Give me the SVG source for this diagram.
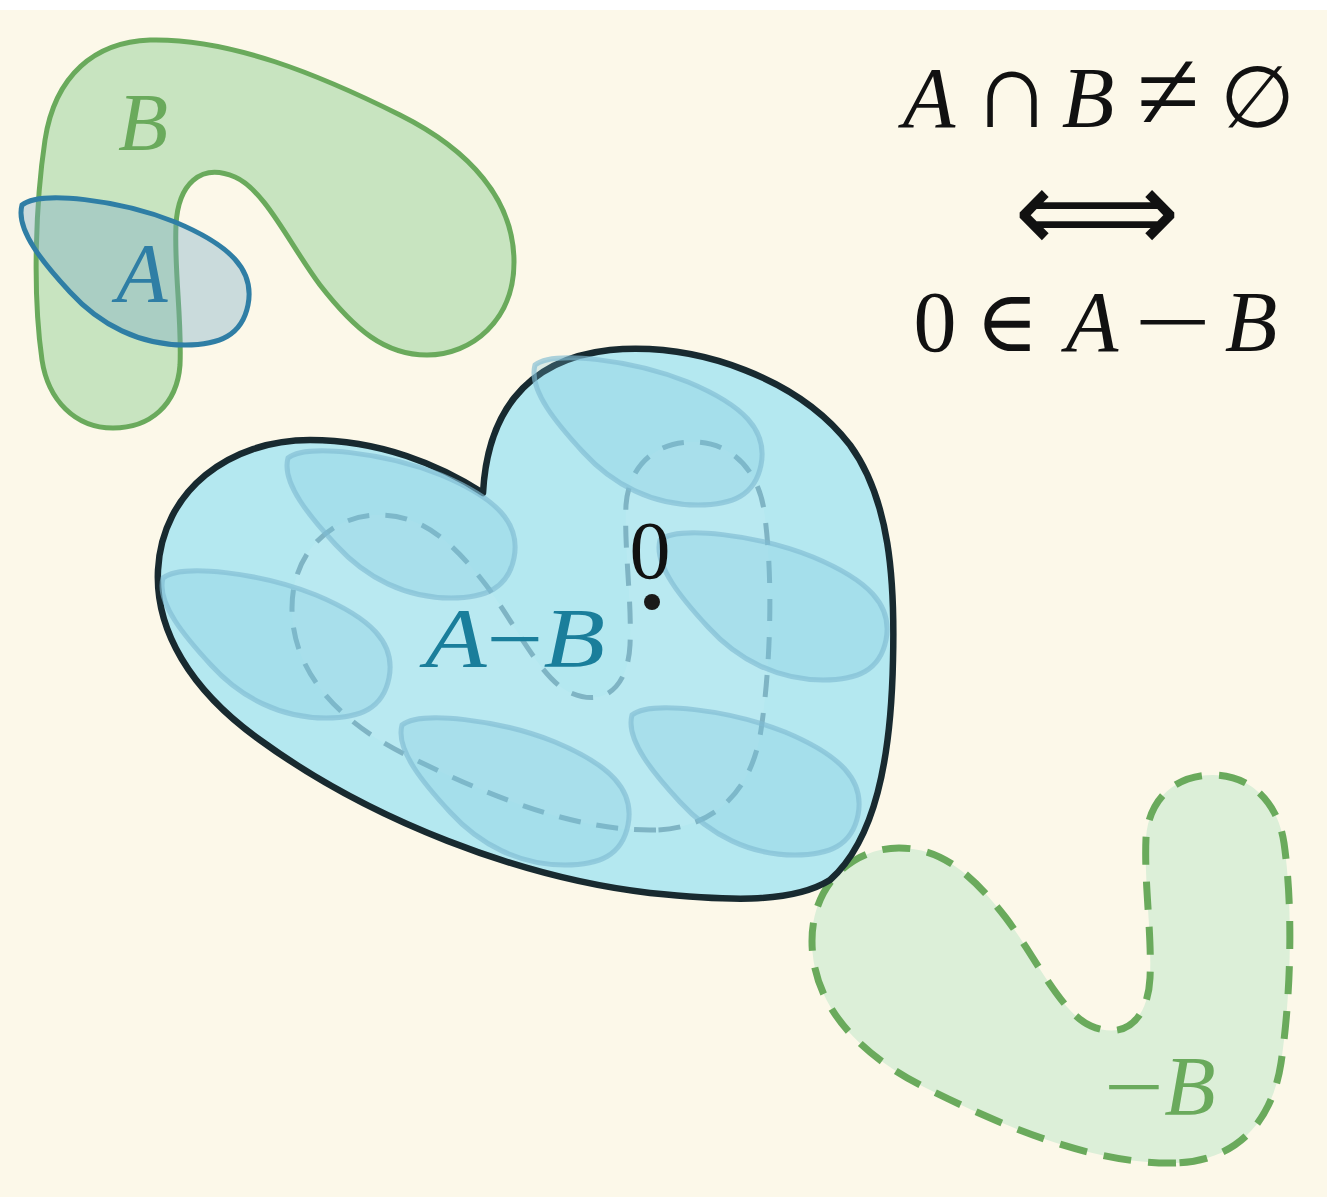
<svg xmlns="http://www.w3.org/2000/svg" xmlns:xlink="http://www.w3.org/1999/xlink" width="1327" height="1197" viewBox="0 0 1327 1197">
<style>
.math{font-family:"Liberation Serif","DejaVu Serif",serif;}
.it{font-style:italic;}
.green{fill:#6aaa5c;}
</style>
<defs>
<path id="shapeA" d="M 22,205 C 40,190 120,200 175,222 C 230,245 255,270 248,305 C 242,335 220,345 185,345 C 140,345 100,325 70,292 C 45,265 15,230 22,205 Z"/>
<path id="shapeB" d="M 150,40 C 230,38 320,75 400,115 C 470,150 514,200 514,262 C 514,320 472,355 427,355 C 385,355 355,330 320,285 C 290,245 265,190 235,177 C 200,162 178,185 176,225 C 174,270 182,320 180,365 C 177,405 150,428 113,428 C 75,428 48,400 42,360 C 32,290 36,200 45,140 C 55,75 95,42 150,40 Z"/>
</defs>
<rect x="0" y="0" width="1327" height="1197" fill="#fcf8e9"/>
<rect x="0" y="0" width="1327" height="10" fill="#ffffff"/>

<g id="setB">
<use xlink:href="#shapeB" fill="#c8e4c0" stroke="#6aaa5c" stroke-width="5"/>
<text class="math it green" x="143" y="150" font-size="82" text-anchor="middle">B</text>
</g>

<g id="setA">
<use xlink:href="#shapeA" fill="#78aac8" fill-opacity="0.38" stroke="#2f7ea5" stroke-width="5"/>
<text class="math it" x="142" y="302" font-size="84" text-anchor="middle" fill="#2f7ea5">A</text>
</g>

<g id="setNegB">
<use xlink:href="#shapeB" transform="translate(1326,1203) rotate(180)" fill="#dcefd8" stroke="#6aaa5c" stroke-width="7" stroke-dasharray="28 17"/>
<text class="math green" x="1104" y="1115" font-size="84" textLength="60" lengthAdjust="spacingAndGlyphs">−</text>
<text class="math it green" x="1190" y="1115" font-size="84" text-anchor="middle">B</text>
</g>

<g id="setAminusB">
<path d="M 483,493 C 487,420 520,360 610,350 C 700,342 800,380 850,445 C 890,500 895,580 893,660 C 891,760 875,840 830,880 C 790,905 720,900 650,893 C 520,878 370,820 260,740 C 190,690 155,630 158,570 C 162,490 230,440 310,440 C 380,440 440,465 483,493 Z" fill="#b4e8f0" stroke="#182a30" stroke-width="6.5" stroke-linejoin="round"/>
<use xlink:href="#shapeB" transform="translate(806,870) rotate(180)" fill="#ffffff" fill-opacity="0.08" stroke="#7fb4c4" stroke-width="5" stroke-dasharray="22 16"/>
<g fill="#78c3dc" fill-opacity="0.25" stroke="#80bcd2" stroke-opacity="0.65" stroke-width="5">
<use xlink:href="#shapeA" transform="translate(513,160)"/>
<use xlink:href="#shapeA" transform="translate(266,253)"/>
<use xlink:href="#shapeA" transform="translate(141,373)"/>
<use xlink:href="#shapeA" transform="translate(638,335)"/>
<use xlink:href="#shapeA" transform="translate(380,520)"/>
<use xlink:href="#shapeA" transform="translate(610,510)"/>
</g>
<text class="math" x="515" y="667" font-size="84" text-anchor="middle" fill="#1a7e9b" textLength="180" lengthAdjust="spacingAndGlyphs"><tspan class="it">A</tspan>−<tspan class="it">B</tspan></text>
</g>

<g id="origin">
<text class="math" x="650" y="578" font-size="82" text-anchor="middle" fill="#111111">0</text>
<circle cx="652" cy="602" r="8" fill="#1a1a1a"/>
</g>

<g id="equation" class="math" fill="#111111" font-size="86" text-anchor="middle">
<text class="it" x="929" y="127">A</text>
<text x="1012" y="127" font-size="110">∩</text>
<text class="it" x="1088" y="127">B</text>
<text x="1168" y="130" font-size="115">≠</text>
<text x="1257" y="127">∅</text>
<text x="1097" y="252" font-size="117" font-family="'DejaVu Sans',sans-serif" textLength="166" lengthAdjust="spacingAndGlyphs">⟺</text>
<text x="935" y="351">0</text>
<text x="1007" y="351">∈</text>
<text class="it" x="1092" y="351">A</text>
<text x="1134" y="351" text-anchor="start" textLength="78" lengthAdjust="spacingAndGlyphs">−</text>
<text class="it" x="1251" y="351">B</text>
</g>
</svg>
